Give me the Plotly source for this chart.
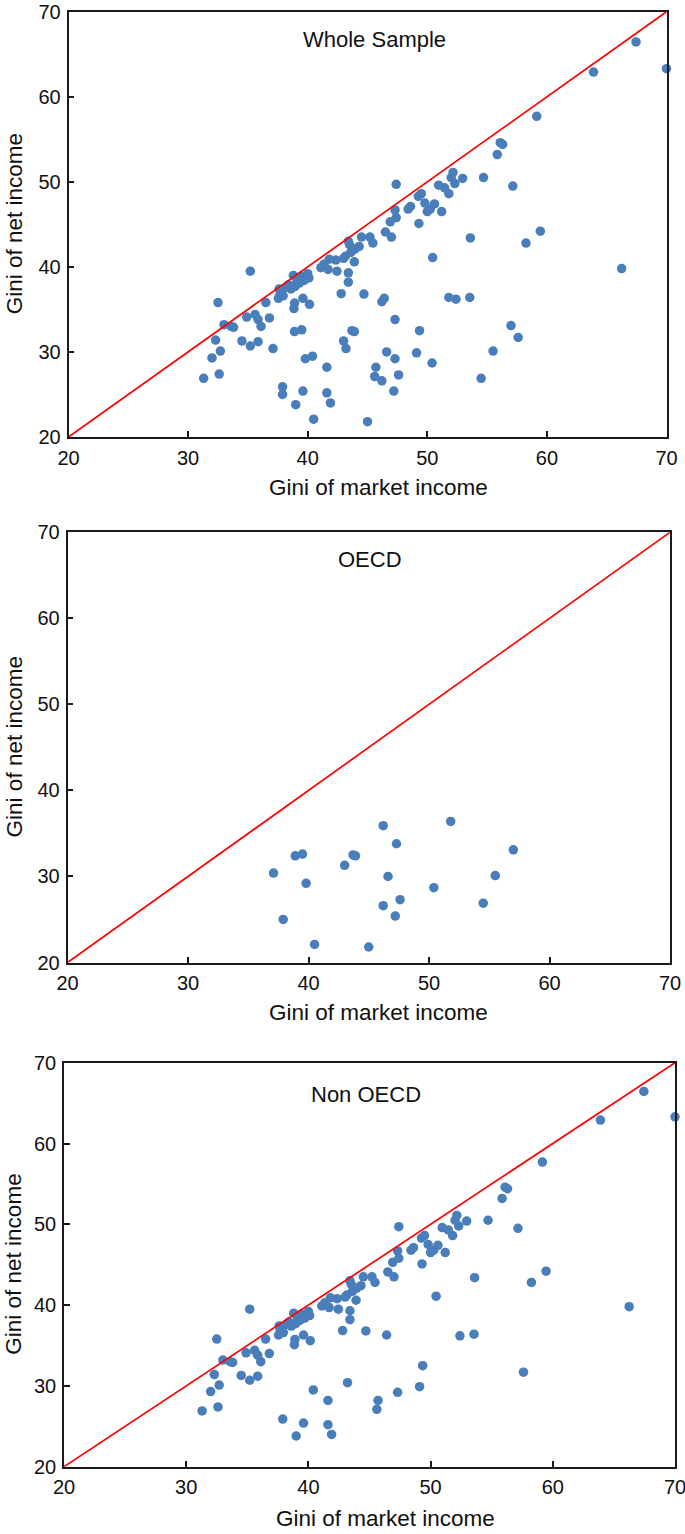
import plotly.graph_objects as go

# ---------------- data ----------------
oecd_market = [37.1, 37.9, 38.9, 39.5, 39.8, 40.5, 43.0, 43.7, 43.9, 45.0, 46.2,
               46.2, 46.6, 47.3, 47.2, 47.6, 50.4, 51.8, 54.5, 55.5, 57.0]
oecd_net = [30.4, 25.0, 32.4, 32.6, 29.2, 22.1, 31.3, 32.5, 32.4, 21.8, 35.9,
            26.6, 30.0, 33.8, 25.4, 27.3, 28.7, 36.4, 26.9, 30.1, 33.1]

nonoecd_market = [31.3, 32.0, 32.6, 32.7, 32.3, 32.5, 33.0, 33.6, 33.8, 34.5, 34.9,
                  35.2, 35.2, 35.6, 35.85, 35.85, 36.1, 36.5, 36.8, 37.6, 37.7, 37.55,
                  37.95, 37.9, 38.2, 38.6, 38.8, 38.95, 38.85, 38.9, 39.3, 39.45, 39.7,
                  40.0, 40.1, 39.6, 40.15, 40.4, 39.0, 39.6, 41.6, 41.6, 41.9, 41.1,
                  41.8, 41.7, 42.35, 42.45, 42.8, 43.2, 43.4, 43.4, 43.9, 43.0, 43.4,
                  43.5, 43.95, 44.3, 43.6, 44.5, 45.2, 45.45, 44.7, 45.7, 45.6, 46.4,
                  46.5, 47.0, 46.9, 47.3, 47.4, 47.4, 47.3, 48.4, 48.6, 49.1, 49.35,
                  49.3, 49.25, 49.5, 49.8, 50.6, 50.0, 50.25, 51.2, 50.45, 50.95, 51.45,
                  51.8, 52.15, 52.0, 52.3, 52.95, 52.4, 53.55, 53.6, 54.7, 55.85, 56.1,
                  56.3, 57.15, 57.6, 58.25, 59.45, 59.15, 63.9, 67.45, 70.0, 66.25,
                  41.35, 43.15, 38.4, 39.1, 37.75]
nonoecd_net = [26.9, 29.3, 27.4, 30.1, 31.4, 35.8, 33.2, 33.0, 32.9, 31.3, 34.1,
               39.5, 30.7, 34.4, 33.8, 31.2, 33.0, 35.8, 34.0, 37.4, 36.8, 36.3,
               36.6, 25.9, 37.6, 37.4, 39.0, 37.7, 35.1, 35.75, 38.1, 38.9, 38.4,
               39.2, 38.7, 36.3, 35.6, 29.5, 23.8, 25.4, 28.2, 25.2, 24.0, 39.9,
               40.9, 39.7, 40.8, 39.5, 36.85, 30.4, 39.3, 38.2, 40.6, 41.0, 43.0,
               42.6, 42.1, 42.4, 41.7, 43.5, 43.5, 42.8, 36.8, 28.2, 27.1, 36.3,
               44.1, 43.5, 45.3, 46.7, 45.8, 49.7, 29.2, 46.8, 47.1, 29.9, 32.5,
               45.1, 48.3, 48.6, 47.5, 47.4, 46.5, 46.8, 46.5, 41.1, 49.6, 49.3,
               48.6, 51.1, 50.5, 49.8, 50.4, 36.2, 36.4, 43.4, 50.5, 53.2, 54.6,
               54.4, 49.5, 31.7, 42.8, 44.2, 57.7, 62.9, 66.45, 63.3, 39.8,
               40.3, 41.25, 37.9, 38.3, 37.1]

whole_market = oecd_market + nonoecd_market
whole_net = oecd_net + nonoecd_net

panel_titles = ["Whole Sample", "OECD", "Non OECD"]
axis_range = [20, 70]
tick_vals = [20, 30, 40, 50, 60, 70]
x_title = "Gini of market income"
y_title = "Gini of net income"

# ---------------- layout geometry (pixels -> paper) ----------------
W, H = 685, 1534
panels = [
    # (left, right, top, bottom) in px
    (68.5, 666.5, 11.7, 437.0),
    (67.5, 670.0, 532.3, 962.5),
    (64.0, 675.0, 1062.7, 1466.7),
]
title_pos = [(45.6, 66.7), (45.1, 66.8), (44.7, 66.1)]
xtitle_px = [(378, 487), (378, 1012), (385, 1518)]

FONT = "Arial, Liberation Sans, sans-serif"
DOT = "#4A7EBB"
TXT = "#111111"

fig = go.Figure()
datasets = [(whole_market, whole_net), (oecd_market, oecd_net),
            (nonoecd_market, nonoecd_net)]

annotations = []
for i, ((xs, ys), (l, r, t, b)) in enumerate(zip(datasets, panels)):
    xa = "x" if i == 0 else f"x{i+1}"
    ya = "y" if i == 0 else f"y{i+1}"
    fig.add_trace(go.Scatter(x=xs, y=ys, mode="markers", xaxis=xa, yaxis=ya,
                             marker=dict(color=DOT, size=9.5, line=dict(width=0)),
                             cliponaxis=False, showlegend=False, hoverinfo="x+y"))
    fig.add_trace(go.Scatter(x=axis_range, y=axis_range, mode="lines", xaxis=xa, yaxis=ya,
                             line=dict(color="#FF0000", width=1.7),
                             showlegend=False, hoverinfo="skip"))
    axis_common = dict(range=axis_range, tickvals=tick_vals, showgrid=False, zeroline=False,
                       showline=True, mirror=True, linecolor="#1a1a1a", linewidth=1.5,
                       ticks="inside", ticklen=6, tickwidth=1.5, tickcolor="#1a1a1a",
                       tickfont=dict(family=FONT, size=20, color=TXT),
                       ticklabeloverflow="allow", fixedrange=True)
    xkey = "xaxis" if i == 0 else f"xaxis{i+1}"
    ykey = "yaxis" if i == 0 else f"yaxis{i+1}"
    fig.update_layout({
        xkey: dict(axis_common, domain=[l / W, r / W], anchor=ya, ticklabelstandoff=2),
        ykey: dict(axis_common, domain=[1 - b / H, 1 - t / H], anchor=xa, ticklabelstandoff=2),
    })
    tx, ty = title_pos[i]
    annotations.append(dict(text=panel_titles[i], x=tx, y=ty, xref=xa, yref=ya,
                            showarrow=False, xanchor="center", yanchor="middle",
                            font=dict(family=FONT, size=22, color=TXT)))
    cx, cy = xtitle_px[i]
    annotations.append(dict(text=x_title, x=cx / W, y=1 - cy / H, xref="paper", yref="paper",
                            showarrow=False, xanchor="center", yanchor="middle",
                            font=dict(family=FONT, size=22.5, color=TXT)))
    annotations.append(dict(text=y_title, x=14 / W, y=1 - ((t + b) / 2) / H,
                            xref="paper", yref="paper", textangle=-90,
                            showarrow=False, xanchor="center", yanchor="middle",
                            font=dict(family=FONT, size=22.5, color=TXT)))

fig.update_layout(width=W, height=H, margin=dict(l=0, r=0, t=0, b=0),
                  template="none", paper_bgcolor="white", plot_bgcolor="white",
                  annotations=annotations, showlegend=False)

fig.write_html("out.html",
               config={"displayModeBar": False},
               post_script="document.body.style.margin='0';"
                           "document.body.style.overflow='hidden';")
